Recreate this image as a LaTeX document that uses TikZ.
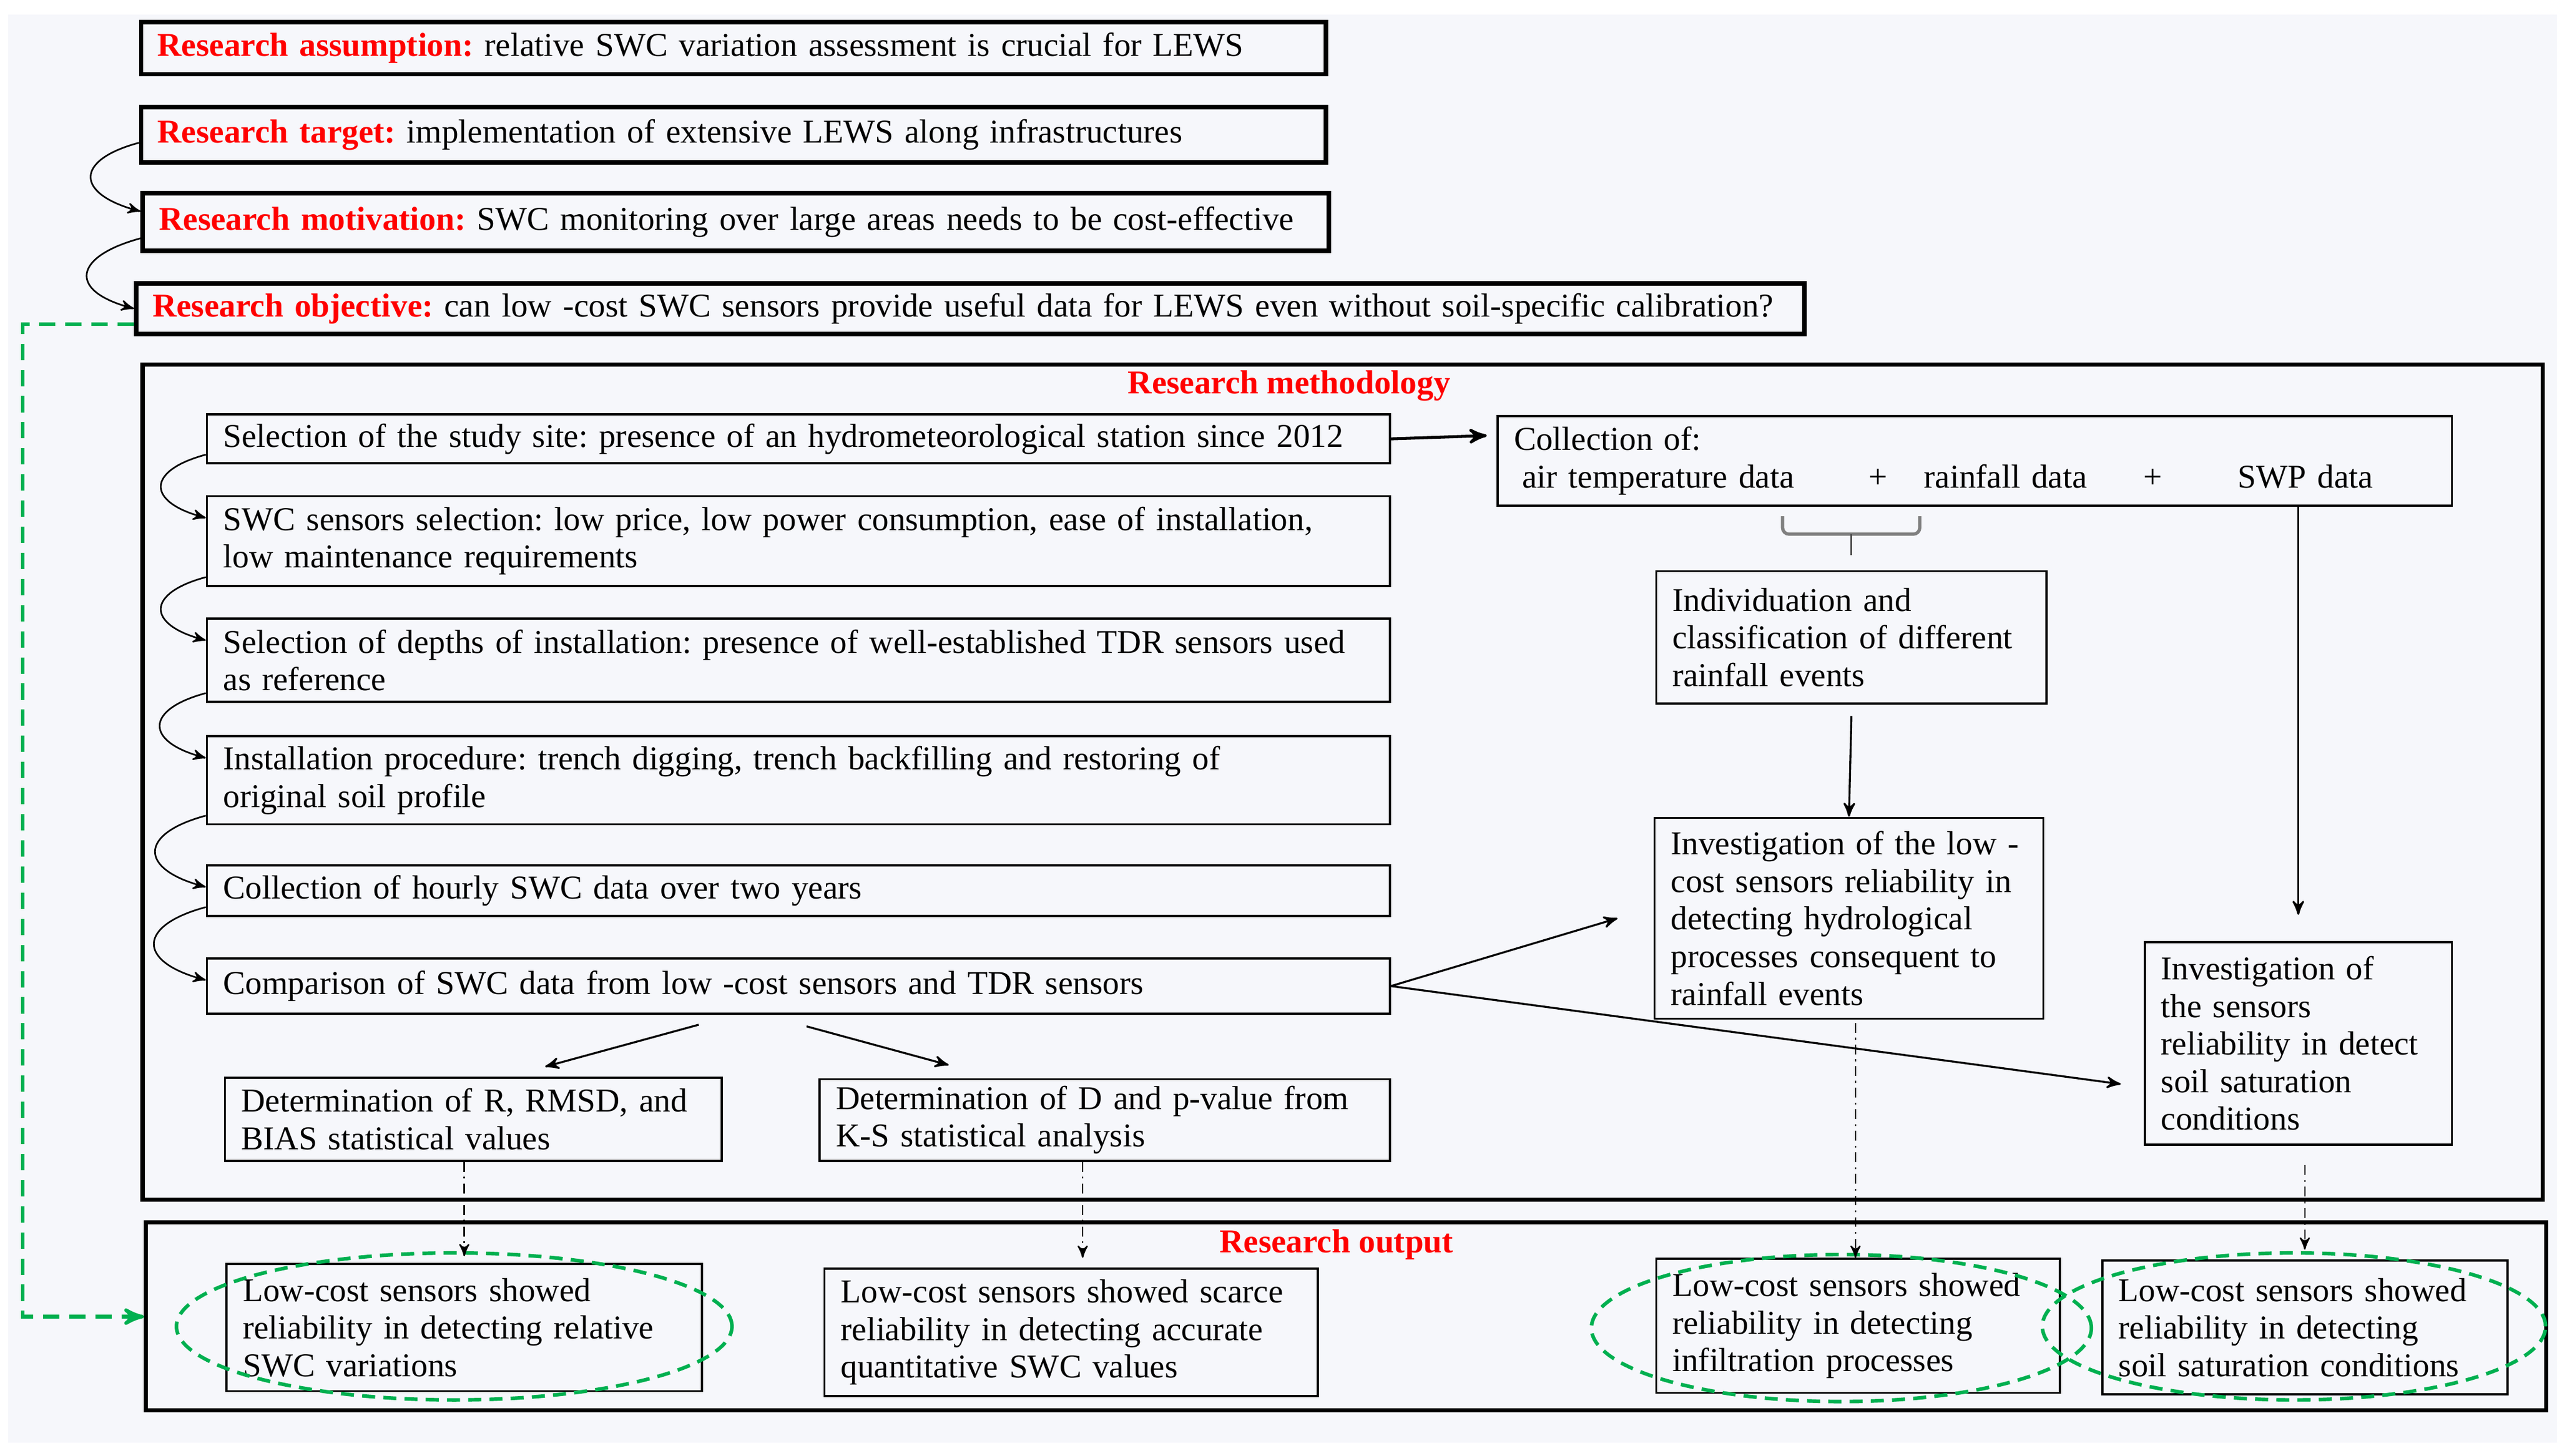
\documentclass[tikz,border=0pt]{standalone}
\usepackage{fontspec}
\setmainfont{Liberation Serif}
\frenchspacing
\usetikzlibrary{arrows, positioning, shapes.geometric}
\definecolor{paper}{HTML}{F6F7FB}
\definecolor{okgreen}{HTML}{00B050}
\tikzset{
        >=stealth', % filled arrow heads
        every node/.style={font=\fontsize{10.2}{11.5}\selectfont}, % body text of all boxes
        headbox/.style={draw, line width=1.4pt, anchor=north west, align=left, inner xsep=5pt, inner ysep=1pt}, % research statements
        stepbox/.style={draw, line width=0.65pt, anchor=north west, align=left, inner xsep=5pt, inner ysep=1pt}, % methodology steps
        frame/.style={draw, line width=1.3pt, anchor=north west, inner sep=0pt}, % big panels
        title/.style={text=red, font=\fontsize{10.2}{11.5}\selectfont\bfseries},
        flow/.style={->, line width=0.6pt},
        curvy/.style={->, line width=0.5pt, out=195, in=165, looseness=2.5},
        drop/.style={->, line width=0.45pt, dash pattern=on 3pt off 1.5pt on 0.6pt off 1.5pt},
        greenoval/.style={ellipse, draw=okgreen, line width=1.1pt, dash pattern=on 4pt off 2.5pt, inner sep=0pt},
        greenlink/.style={->, draw=okgreen, line width=1.1pt, dash pattern=on 5pt off 3pt},
    }
\newcommand{\lbl}[1]{\textcolor{red}{\textbf{#1}}}

\begin{document}
\begin{tikzpicture}[x=0.5pt, y=-0.5pt]
    \useasboundingbox (0,0) rectangle (1565,891);
    \fill[paper] (5,9) rectangle (1565,883);

    % research statements
    \node[headbox, text width=352.5pt, minimum height=16pt] (assum) at (85,12) {\mbox{\lbl{Research assumption:} relative SWC variation assessment is crucial for LEWS}};
    \node[headbox, text width=352.5pt, minimum height=17pt] (target) at (85,64) {\mbox{\lbl{Research target:} implementation of extensive LEWS along infrastructures}};
    \node[headbox, text width=353pt, minimum height=17.5pt] (motiv) at (86,117) {\mbox{\lbl{Research motivation:} SWC monitoring over large areas needs to be cost-effective}};
    \node[headbox, text width=500.5pt, minimum height=15.5pt] (obj) at (82,172) {\mbox{\lbl{Research objective:} can low -cost SWC sensors provide useful data for LEWS even without soil-specific calibration?}};

    % research methodology
    \node[frame, minimum width=734.5pt, minimum height=255.5pt] (method) at (86,222) {};
    \node[title] (methodtitle) at (789,236) {Research methodology};
    \node[stepbox, text width=352pt, minimum height=15pt] (site) at (126,253) {Selection of the study site: presence of an hydrometeorological station since 2012};
    \node[stepbox, text width=352pt, minimum height=27.5pt] (select) at (126,303) {SWC sensors selection: low price, low power consumption, ease of installation,\\low maintenance requirements};
    \node[stepbox, text width=352pt, minimum height=25.5pt] (depth) at (126,378) {Selection of depths of installation: presence of well-established TDR sensors used\\as reference};
    \node[stepbox, text width=352pt, minimum height=27pt] (install) at (126,450) {Installation procedure: trench digging, trench backfilling and restoring of\\original soil profile};
    \node[stepbox, text width=352pt, minimum height=15.5pt] (hourly) at (126,529) {Collection of hourly SWC data over two years};
    \node[stepbox, text width=352pt, minimum height=17pt] (compare) at (126,586) {Comparison of SWC data from low -cost sensors and TDR sensors};
    \node[stepbox, text width=142pt, minimum height=25.5pt] (stats) at (137,659) {Determination of R, RMSD, and\\BIAS statistical values};
    \node[stepbox, text width=164.5pt, minimum height=25pt] (ks) at (501,660) {Determination of D and p-value from\\K-S statistical analysis};
    \node[stepbox, text width=282pt, minimum height=27.5pt] (coll) at (916,254) {Collection of:\\\hspace*{2.5pt}\makebox[106pt][l]{air temperature data}\makebox[17pt][l]{+}\makebox[67pt][l]{rainfall data}\makebox[29pt][l]{+}SWP data};
    \node[stepbox, text width=109.5pt, minimum height=40.5pt] (indiv) at (1013,349) {Individuation and\\classification of different\\rainfall events};
    \node[stepbox, text width=109pt, minimum height=61.5pt] (invlow) at (1012,500) {Investigation of the low~-\\cost sensors reliability in\\detecting hydrological\\processes consequent to\\rainfall events};
    \node[stepbox, text width=84pt, minimum height=62pt] (invsat) at (1312,576) {Investigation of\\the sensors\\reliability in detect\\soil saturation\\conditions};

    % brace under the collected data
    \coordinate (braceL) at (1091,316);
    \coordinate (braceR) at (1175,316);
    \coordinate (braceTip) at (1133,340);
    \draw[gray, line width=1pt, rounded corners=2pt] (braceL) -- (1091,327) -- (1175,327) -- (braceR);
    \draw[gray!60!black, line width=0.5pt] (1133,327) -- (braceTip);

    % research output
    \node[frame, minimum width=734.5pt, minimum height=57.5pt] (outframe) at (88,747) {};
    \node[title] (outtitle) at (818,762) {Research output};
    \node[stepbox, text width=135.5pt, minimum height=39pt] (out1) at (138,773) {Low-cost sensors showed\\reliability in detecting relative\\SWC variations};
    \node[stepbox, text width=141pt, minimum height=39pt] (out2) at (504,776) {Low-cost sensors showed scarce\\reliability in detecting accurate\\quantitative SWC values};
    \node[stepbox, text width=113.5pt, minimum height=41pt] (out3) at (1013,770) {Low-cost sensors showed\\reliability in detecting\\infiltration processes};
    \node[stepbox, text width=114pt, minimum height=41pt] (out4) at (1286,771) {Low-cost sensors showed\\reliability in detecting\\soil saturation conditions};
    \node[greenoval, minimum width=170pt, minimum height=45pt] (ring1) at (278,812) {};
    \node[greenoval, minimum width=153pt, minimum height=45pt] (ring3) at (1127,813) {};
    \node[greenoval, minimum width=154pt, minimum height=45pt] (ring4) at (1404,812) {};

    % connectors
    \draw[curvy] ([yshift=-2.5pt]target.west) to ([yshift=3.25pt]motiv.west);
    \draw[curvy] ([yshift=-5pt]motiv.west) to ([yshift=0pt]obj.west);
    \draw[curvy] ([yshift=3pt]site.south west) to ([yshift=-7pt]select.north west);
    \draw[curvy] ([yshift=3pt]select.south west) to ([yshift=-7pt]depth.north west);
    \draw[curvy] ([yshift=3pt]depth.south west) to ([yshift=-7pt]install.north west);
    \draw[curvy] ([yshift=3pt]install.south west) to ([yshift=-7pt]hourly.north west);
    \draw[curvy] ([yshift=3pt]hourly.south west) to ([yshift=-7pt]compare.north west);

    \draw[flow, line width=0.9pt] (site.east) -- ([xshift=-3pt, yshift=7.75pt]coll.west);
    \draw[flow] (invsat.north |- coll.south) -- ([yshift=8pt]invsat.north);
    \draw[flow] ([yshift=-3.5pt]indiv.south) -- (invlow.north);
    \draw[flow] (compare.east) -- ([xshift=-11pt]invlow.west);
    \draw[flow] (compare.east) -- ([xshift=-7pt, yshift=-12.5pt]invsat.west);
    \draw[flow] ([xshift=-30.5pt, yshift=-3pt]compare.south) -- ([xshift=22pt, yshift=3pt]stats.north);
    \draw[flow] ([xshift=2.5pt, yshift=-3.5pt]compare.south) -- ([xshift=-47.75pt, yshift=4pt]ks.north);

    \draw[drop] (out1.north |- stats.south) -- ([yshift=2pt]out1.north);
    \draw[drop] ([xshift=-6.75pt]ks.south) -- ([xshift=3.5pt, yshift=3pt]out2.north);
    \draw[drop] ([xshift=2pt, yshift=-1pt]invlow.south) -- ([xshift=-0.75pt]out3.north);
    \draw[drop] ([xshift=2pt, yshift=-6pt]invsat.south) -- ([yshift=3pt]out4.north);

    \coordinate (turn) at (14,806);
    \draw[greenlink] ([yshift=-4.75pt]obj.west) -| (turn) -- (outframe.west |- turn);
\end{tikzpicture}
\end{document}
